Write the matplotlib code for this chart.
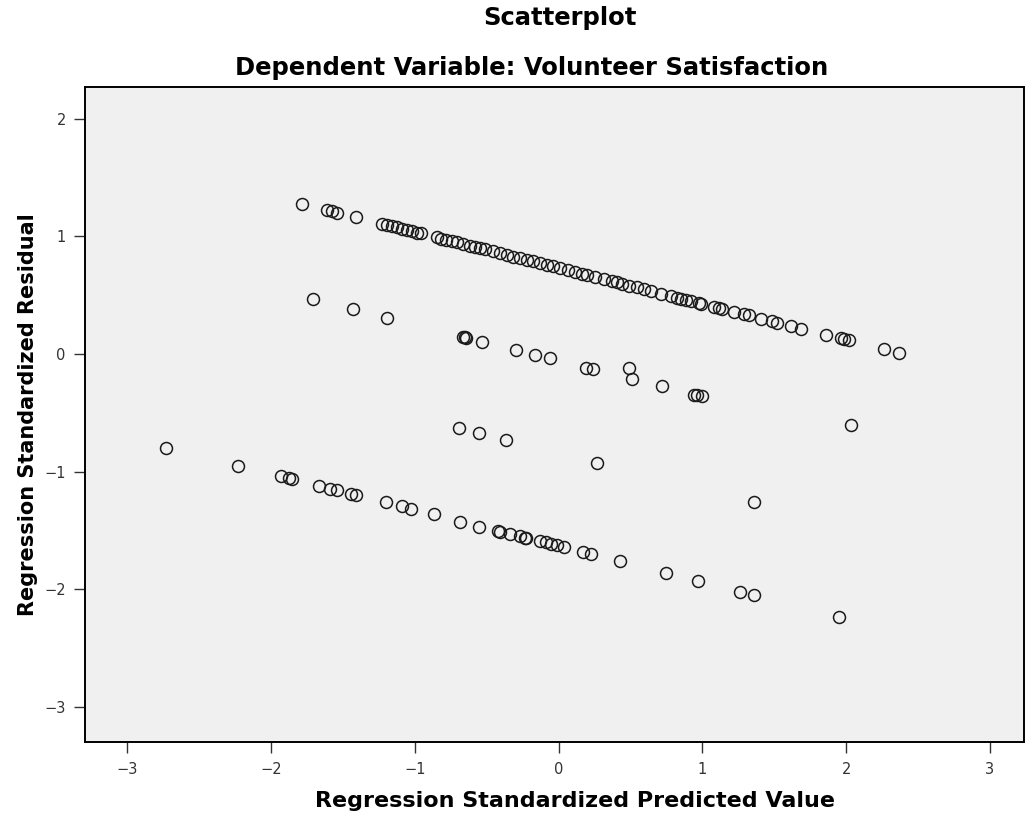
import numpy as np
import matplotlib.pyplot as plt

# regression standardized predicted value / residual
# upper band
pred_top = [-1.787, -1.613, -1.578, -1.544, -1.412, -1.231, -1.197, -1.162, -1.127, -1.092,
            -1.058, -1.023, -0.988, -0.960, -0.849, -0.815, -0.780, -0.745, -0.710, -0.665,
            -0.618, -0.583, -0.549, -0.514, -0.458, -0.410, -0.361, -0.319, -0.271, -0.222,
            -0.181, -0.132, -0.083, -0.042, 0.007, 0.063, 0.111, 0.160, 0.201, 0.250,
            0.319, 0.368, 0.403, 0.444, 0.493, 0.542, 0.597, 0.646, 0.715, 0.785,
            0.826, 0.854, 0.889, 0.924, 0.979, 0.993, 1.083, 1.118, 1.139, 1.222,
            1.292, 1.326, 1.410, 1.486, 1.521, 1.618, 1.688, 1.861, 1.965, 1.986,
            2.021, 2.264, 2.368]
resid_top = [1.276, 1.224, 1.213, 1.203, 1.162, 1.107, 1.097, 1.086, 1.076, 1.065,
             1.055, 1.044, 1.033, 1.025, 0.991, 0.980, 0.970, 0.959, 0.949, 0.935,
             0.920, 0.910, 0.899, 0.889, 0.872, 0.857, 0.842, 0.829, 0.815, 0.800,
             0.787, 0.772, 0.757, 0.745, 0.730, 0.713, 0.698, 0.683, 0.671, 0.656,
             0.635, 0.620, 0.609, 0.597, 0.582, 0.567, 0.550, 0.535, 0.514, 0.493,
             0.480, 0.472, 0.461, 0.450, 0.434, 0.429, 0.402, 0.391, 0.385, 0.360,
             0.338, 0.328, 0.302, 0.279, 0.268, 0.239, 0.217, 0.165, 0.133, 0.127,
             0.116, 0.042, 0.011]

# middle band
pred_mid = [-1.706, -1.433, -1.192, -0.665, -0.653, -0.641, -0.530, -0.294, -0.162, -0.063,
            0.192, 0.238, 0.493, 0.509, 0.722, 0.944, 0.965, 1.000]
resid_mid = [0.468, 0.383, 0.306, 0.147, 0.142, 0.139, 0.105, 0.034, -0.009, -0.037,
             -0.116, -0.128, -0.122, -0.213, -0.272, -0.349, -0.349, -0.357]

# lower band
pred_low = [-2.729, -2.231, -1.933, -1.873, -1.856, -1.665, -1.590, -1.544, -1.447, -1.412,
            -1.203, -1.092, -1.030, -0.866, -0.688, -0.553, -0.422, -0.410, -0.335, -0.271,
            -0.236, -0.229, -0.132, -0.090, -0.050, -0.012, 0.035, 0.169, 0.222, 0.424,
            0.748, 0.967, 1.264, 1.361]
resid_low = [-0.799, -0.950, -1.040, -1.054, -1.063, -1.125, -1.145, -1.156, -1.190, -1.196,
             -1.261, -1.295, -1.318, -1.361, -1.426, -1.468, -1.508, -1.510, -1.531, -1.550,
             -1.562, -1.565, -1.590, -1.602, -1.614, -1.624, -1.641, -1.686, -1.701, -1.758,
             -1.862, -1.930, -2.021, -2.049]

# scattered points
pred_other = [-0.694, -0.553, -0.363, 0.269, 1.356, 1.951, 2.033]
resid_other = [-0.632, -0.675, -0.734, -0.927, -1.261, -2.234, -0.604]

x_ticks = [-3, -2, -1, 0, 1, 2, 3]
y_ticks = [-3, -2, -1, 0, 1, 2]

x = np.array(pred_top + pred_mid + pred_low + pred_other)
y = np.array(resid_top + resid_mid + resid_low + resid_other)

fig = plt.figure(figsize=(10.27, 8.21), dpi=100)
ax = fig.add_axes([0.083, 0.096, 0.914, 0.798])
ax.set_facecolor('#f0f0f0')

ax.plot(x, y, 'o', markersize=8.6, markerfacecolor='none',
        markeredgecolor='#1a1a1a', markeredgewidth=1.1)

ax.set_xlim(-3.293, 3.237)
ax.set_ylim(-3.30, 2.27)
ax.set_xticks(x_ticks)
ax.set_yticks(y_ticks)
ax.tick_params(axis='both', direction='out', length=8, width=1, colors='#333333',
               labelsize=10.5, pad=6)
for s in ax.spines.values():
    s.set_linewidth(1.4)
    s.set_color('black')

fig.text(0.545, 0.978, 'Scatterplot', ha='center', va='center',
         fontsize=17.5, fontweight='bold')
fig.text(0.518, 0.917, 'Dependent Variable: Volunteer Satisfaction', ha='center',
         va='center', fontsize=17.5, fontweight='bold')
fig.text(0.56, 0.024, 'Regression Standardized Predicted Value', ha='center',
         va='center', fontsize=16, fontweight='bold')
fig.text(0.027, 0.495, 'Regression Standardized Residual', ha='center', va='center',
         rotation=90, fontsize=15, fontweight='bold')

fig.savefig('out.png', dpi=100)
